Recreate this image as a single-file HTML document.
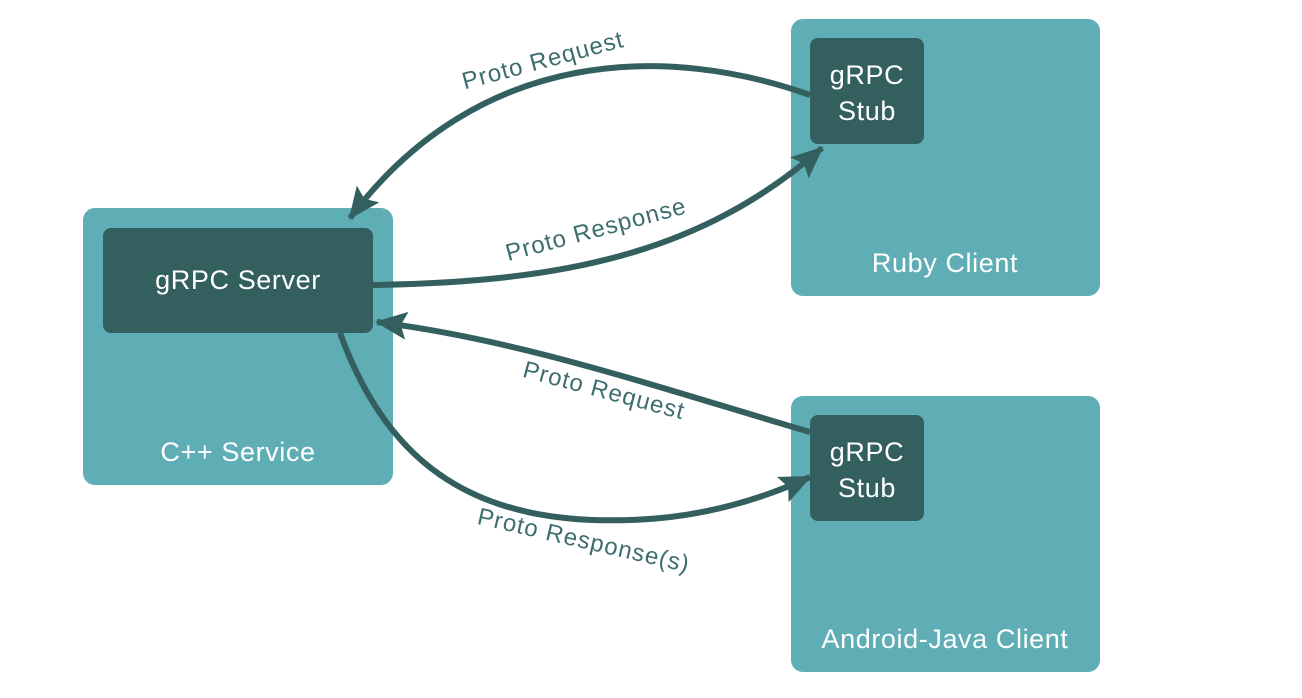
<!DOCTYPE html>
<html><head><style>
html,body{margin:0;padding:0;background:#fff;}
svg{display:block;font-family:"Liberation Sans",sans-serif;}
</style></head><body>
<svg width="1302" height="698" viewBox="0 0 1302 698">
<defs>
<marker id="a" markerUnits="userSpaceOnUse" markerWidth="36" markerHeight="36" viewBox="0 0 36 36" refX="32" refY="18" orient="auto">
<path d="M2,4 L34,18 L2,32 L8,18 Z" fill="#335f5f"/>
</marker>
</defs>
<rect x="83" y="208" width="310" height="277" rx="12" fill="#5fadb5"/>
<rect x="103" y="228" width="270" height="105" rx="8" fill="#335f5f"/>
<rect x="791" y="19" width="309" height="277" rx="12" fill="#5fadb5"/>
<rect x="810" y="38" width="114" height="106" rx="8" fill="#335f5f"/>
<rect x="791" y="396" width="309" height="276" rx="12" fill="#5fadb5"/>
<rect x="810" y="415" width="114" height="106" rx="8" fill="#335f5f"/>
<g fill="#fff" font-size="27" text-anchor="middle" letter-spacing="0.6">
<text x="238" y="289">gRPC Server</text>
<text x="238" y="461">C++ Service</text>
<text x="867" y="84">gRPC</text>
<text x="867" y="120">Stub</text>
<text x="945" y="272">Ruby Client</text>
<text x="867" y="461">gRPC</text>
<text x="867" y="497">Stub</text>
<text x="945" y="648">Android-Java Client</text>
</g>
<g fill="none" stroke="#335f5f" stroke-width="6">
<path d="M810,95 C670,45 480,45 350,218" marker-end="url(#a)"/>
<path d="M373,285 C560,282 700,255 822,148" marker-end="url(#a)"/>
<path d="M810,432 C650,385 520,340 377,322" marker-end="url(#a)"/>
<path d="M340,333 C390,470 480,525 630,520 C700,518 760,500 810,477" marker-end="url(#a)"/>
</g>
<g fill="#3d6d6f" font-size="24" text-anchor="middle" letter-spacing="1">
<text transform="translate(545,68) rotate(-15)">Proto Request</text>
<text transform="translate(598,237) rotate(-15)">Proto Response</text>
<text transform="translate(602,398) rotate(15)">Proto Request</text>
<text transform="translate(582,548) rotate(13)">Proto Response(s)</text>
</g>
</svg>
</body></html>
